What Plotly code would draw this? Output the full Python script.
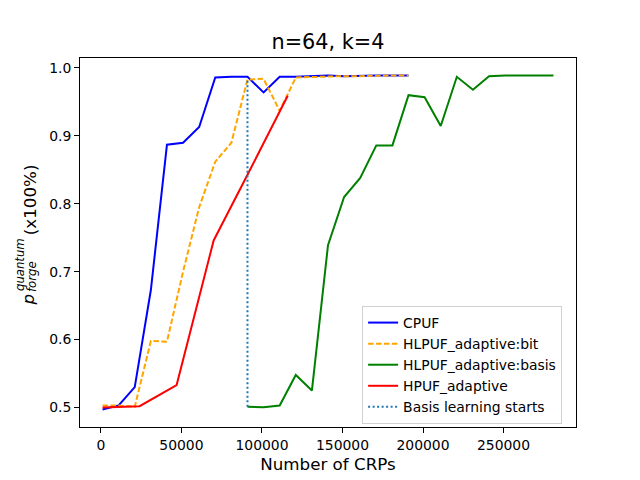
"""n=64, k=4: forging probability vs number of CRPs."""

import plotly.graph_objects as go

# CRP counts per series
crps_cpuf = [1000, 11000, 21000, 31000, 41000, 51000, 61000, 71000, 81000, 91000,
             101000, 111000, 121000, 131000, 141000, 151000, 161000, 171000, 181000, 191000]
crps_hlpuf_bit = crps_cpuf
crps_hlpuf_basis = [91000, 101000, 111000, 121000, 131000, 141000, 151000, 161000, 171000, 181000,
                    191000, 201000, 211000, 221000, 231000, 241000, 251000, 261000, 271000, 281000]
crps_hpuf = [1000, 24000, 47000, 70000, 93000, 116000]

# p_forge values
cpuf = [0.497, 0.503, 0.530, 0.673, 0.887, 0.890, 0.913, 0.986, 0.987, 0.987,
        0.964, 0.987, 0.987, 0.988, 0.989, 0.988, 0.989, 0.989, 0.989, 0.989]
hlpuf_bit = [0.503, 0.503, 0.501, 0.598, 0.597, 0.700, 0.795, 0.862, 0.890, 0.983,
             0.984, 0.937, 0.986, 0.987, 0.988, 0.988, 0.988, 0.989, 0.989, 0.989]
hlpuf_basis = [0.501, 0.5005, 0.503, 0.548, 0.525, 0.739, 0.810, 0.838, 0.886, 0.886,
               0.960, 0.957, 0.9145, 0.987, 0.968, 0.988, 0.989, 0.989, 0.990, 0.989]
hpuf = [0.500, 0.502, 0.533, 0.746, 0.852, 0.959]

basis_start_x = [91000, 91000]
basis_start_y = [0.501, 0.983]

x_ticks = [0, 50000, 100000, 150000, 200000, 250000]
y_ticks = [0.5, 0.6, 0.7, 0.8, 0.9, 1.0]

FONT = "DejaVu Sans"
# page body has an 8px margin, so the figure is shrunk by that much
PAGE_PAD = 8

fig = go.Figure()
fig.add_trace(go.Scatter(x=crps_cpuf, y=cpuf, mode="lines", name="CPUF",
                         line=dict(color="blue", width=2)))
fig.add_trace(go.Scatter(x=crps_hlpuf_bit, y=hlpuf_bit, mode="lines", name="HLPUF_adaptive:bit",
                         line=dict(color="orange", width=2, dash="5.5px,2.4px")))
fig.add_trace(go.Scatter(x=crps_hlpuf_basis, y=hlpuf_basis, mode="lines", name="HLPUF_adaptive:basis",
                         line=dict(color="green", width=2)))
fig.add_trace(go.Scatter(x=crps_hpuf, y=hpuf, mode="lines", name="HPUF_adaptive",
                         line=dict(color="red", width=2)))
fig.add_trace(go.Scatter(x=basis_start_x, y=basis_start_y, mode="lines", name="Basis learning starts",
                         line=dict(color="#1f77b4", width=2, dash="2px,2.5px")))

axis_common = dict(
    showline=True, linecolor="black", linewidth=1, mirror=True,
    ticks="outside", ticklen=5, tickwidth=1, tickcolor="black",
    showgrid=False, zeroline=False, automargin=False,
    tickfont=dict(family=FONT, size=13.9, color="black"),
)

fig.update_xaxes(range=[-13000, 295000], tickvals=x_ticks, ticktext=[str(v) for v in x_ticks],
                 title=dict(text="Number of CRPs", font=dict(family=FONT, size=16.7, color="black"),
                            standoff=6),
                 **axis_common)
fig.update_yaxes(range=[0.4713, 1.0147], tickvals=y_ticks, ticktext=[f"{v:.1f}" for v in y_ticks],
                 **axis_common)

# y label built from pieces to stack super/subscript like mathtext
ylabel_parts = [
    ("(x100%)", -0.1008, 0.6147, 16.7),
    ("<i>p</i>", -0.1038, 0.344, 16.7),
    ("<i>quantum</i>", -0.121, 0.4416, 11.7),
    ("<i>forge</i>", -0.0968, 0.409, 11.7),
]
for text, ax, ay, size in ylabel_parts:
    fig.add_annotation(text=text, xref="paper", yref="paper", x=ax, y=ay,
                       xanchor="center", yanchor="middle", showarrow=False, textangle=-90,
                       font=dict(family=FONT, size=size, color="black"))

fig_w, fig_h = 640 - PAGE_PAD, 480 - PAGE_PAD
fig.update_layout(
    width=fig_w, height=fig_h,
    margin=dict(l=80 - PAGE_PAD, r=64, t=58 - PAGE_PAD, b=53),
    paper_bgcolor="white", plot_bgcolor="white",
    font=dict(family=FONT, color="black"),
    title=dict(text="n=64, k=4", x=(328 - PAGE_PAD) / fig_w, xanchor="center",
               y=1 - (42 - PAGE_PAD) / fig_h, yanchor="middle",
               yref="container", font=dict(family=FONT, size=20.8, color="black")),
    legend=dict(x=0.972, y=0.008, xanchor="right", yanchor="bottom",
                bgcolor="rgba(255,255,255,0.8)", bordercolor="#d0d0d0", borderwidth=1,
                font=dict(family=FONT, size=13.9, color="black"), itemwidth=30),
    showlegend=True,
)

fig.write_html("out.html")
